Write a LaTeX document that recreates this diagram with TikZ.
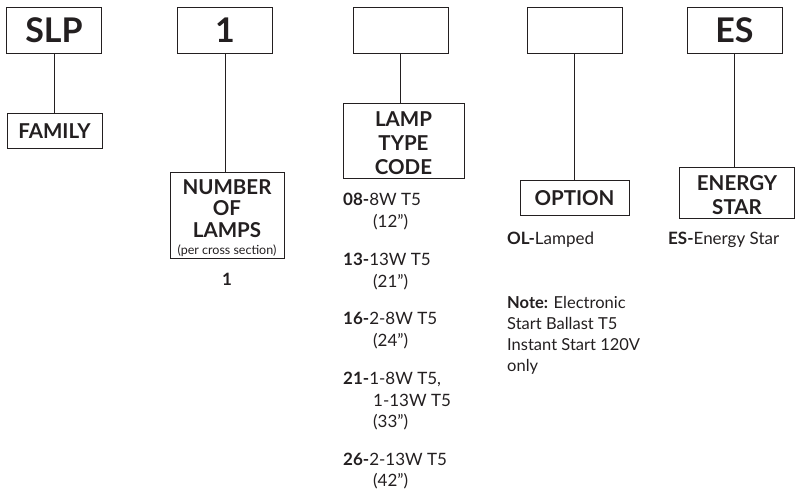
\documentclass[tikz,border=0pt]{standalone}
\usepackage{fontspec}
\setmainfont{Lato}
\definecolor{ink}{HTML}{231F20}
\begin{document}
\begin{tikzpicture}[x=1pt,y=-1pt,
  topbox/.style={draw=ink, line width=0.9pt, minimum width=95pt, minimum height=46pt, inner sep=0pt, font=\fontsize{34}{34}\selectfont\bfseries, text=ink},
  labbox/.style={draw=ink, line width=0.9pt, inner sep=0pt},
  labtext/.style={inner sep=0pt, align=center, font=\fontsize{20.5}{21.7}\selectfont\bfseries, text=ink},
  body/.style={anchor=base west, inner sep=0pt, font=\fontsize{17}{21}\selectfont, text=ink},
  conn/.style={draw=ink, line width=0.9pt}]
\useasboundingbox (0,0) rectangle (796,491);

% top boxes
\node[topbox] (t1) at (54,30) {SLP};
\node[topbox] (t2) at (225,30) {1};
\node[topbox] (t3) at (400.5,30) {};
\node[topbox] (t4) at (574.5,30) {};
\node[topbox] (t5) at (734.5,30) {ES};

% label boxes
\node[labbox, minimum width=95pt, minimum height=35pt] (b1) at (54.5,130.5) {};
\node[labbox, minimum width=114pt, minimum height=86pt] (b2) at (227,215) {};
\node[labbox, minimum width=121pt, minimum height=75pt] (b3) at (403.5,140.5) {};
\node[labbox, minimum width=109pt, minimum height=35pt] (b4) at (574.5,197.5) {};
\node[labbox, minimum width=115pt, minimum height=51pt] (b5) at (737,192.5) {};

% connectors
\draw[conn] (t1.south) -- (t1.south |- b1.north);
\draw[conn] (t2.south) -- (t2.south |- b2.north);
\draw[conn] (t3.south) -- (t3.south |- b3.north);
\draw[conn] (t4.south) -- (t4.south |- b4.north);
\draw[conn] (t5.south) -- (t5.south |- b5.north);

% label texts
\node[labtext] (l1) at (54.5,131) {FAMILY};
\node[labtext] (l2) at (227,208.5) {NUMBER\\OF\\LAMPS};
\node[inner sep=0pt, font=\fontsize{12.5}{13}\selectfont, text=ink] (l2s) at (227,251) {(per cross section)};
\node[labtext, font=\fontsize{20.5}{23.7}\selectfont\bfseries] (l3) at (403.5,143) {LAMP\\TYPE\\CODE};
\node[labtext] (l4) at (574.5,198.5) {OPTION};
\node[labtext, font=\fontsize{20.5}{24}\selectfont\bfseries] (l5) at (737,195) {ENERGY\\STAR};

% values
\node[inner sep=0pt, font=\fontsize{17}{21}\selectfont\bfseries, text=ink] (v2) at (227,279) {1};

\node[body] (c1) at (343,205) {\textbf{08-}8W T5};
\node[body] (c1b) at (373,227) {(12")};
\node[body] (c2) at (343,265) {\textbf{13-}13W T5};
\node[body] (c2b) at (373,287) {(21")};
\node[body] (c3) at (343,324) {\textbf{16-}2-8W T5};
\node[body] (c3b) at (373,346) {(24")};
\node[body] (c4) at (343,384) {\textbf{21-}1-8W T5,};
\node[body] (c4b) at (373,406) {1-13W T5};
\node[body] (c4c) at (373,427) {(33")};
\node[body] (c5) at (343,465) {\textbf{26-}2-13W T5};
\node[body] (c5b) at (373,486) {(42")};

\node[body] (o1) at (507,244) {\textbf{OL-}Lamped};
\node[body, font=\fontsize{16.5}{21}\selectfont] (n1) at (507,308) {\textbf{Note:} Electronic};
\node[body, font=\fontsize{16.5}{21}\selectfont] (n2) at (507,329) {Start Ballast T5};
\node[body, font=\fontsize{16.5}{21}\selectfont] (n3) at (507,350) {Instant Start 120V};
\node[body, font=\fontsize{16.5}{21}\selectfont] (n4) at (507,371) {only};

\node[body] (e1) at (668,244) {\textbf{ES-}Energy Star};
\end{tikzpicture}
\end{document}
